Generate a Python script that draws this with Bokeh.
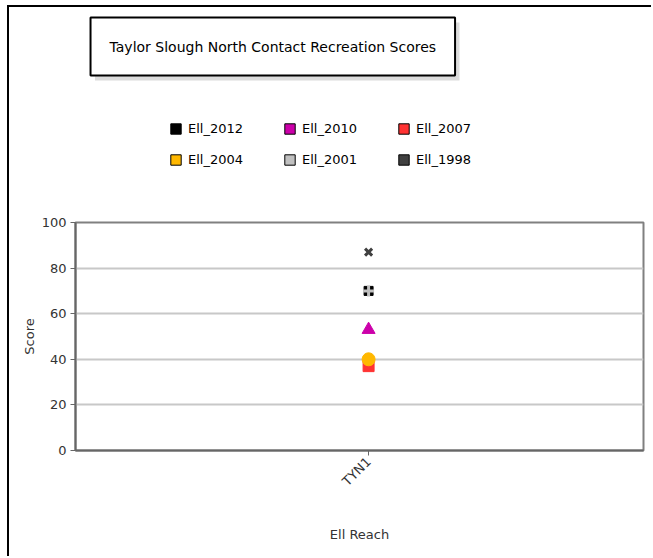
import math
from bokeh.plotting import figure
from bokeh.layouts import column
from bokeh.models import (Label, Legend, LegendItem, Range1d, FixedTicker, ColumnDataSource)
from bokeh.embed import file_html
from bokeh.resources import INLINE

title_text = "Taylor Slough North Contact Recreation Scores"
categories = ["TYN1"]
series = ["Ell_2012", "Ell_2010", "Ell_2007", "Ell_2004", "Ell_2001", "Ell_1998"]
scores = {
    "Ell_2012": [70],
    "Ell_2010": [53],
    "Ell_2007": [37],
    "Ell_2004": [40],
    "Ell_2001": [70],
    "Ell_1998": [87],
}
colors = {
    "Ell_2012": "#000000",
    "Ell_2010": "#cc00aa",
    "Ell_2007": "#ff3333",
    "Ell_2004": "#ffb800",
    "Ell_2001": "#c0c0c0",
    "Ell_1998": "#404040",
}
y_ticks = [0, 20, 40, 60, 80, 100]

FONT = "DejaVu Sans"

# ---------- header (title box + legend), pixel-like coordinates ----------
HW, HH = 642, 203
head = figure(width=HW, height=HH, output_backend="svg", toolbar_location=None,
              x_range=Range1d(0, HW), y_range=Range1d(0, HH),
              x_axis_type=None, y_axis_type=None, min_border=0)
head.grid.grid_line_color = None
head.outline_line_color = None
head.background_fill_color = "white"
head.border_fill_color = "white"

shadow = Label(x=228, y=159, text=title_text, text_align="center", text_baseline="middle",
               text_font=FONT, text_font_size="14px", text_color="#dcdcdc",
               background_fill_color="#dcdcdc", border_line_color=None,
               padding=(19, 19, 21, 21))
box = Label(x=223, y=164, text=title_text, text_align="center", text_baseline="middle",
            text_font=FONT, text_font_size="14px", text_color="black",
            background_fill_color="white", border_line_color="black", border_line_width=2,
            padding=(19, 19, 21, 21))
head.add_layout(shadow)
head.add_layout(box)

items = []
nan = float("nan")
for s in series:
    r = head.quad(left=[nan], right=[nan], top=[nan], bottom=[nan],
                  fill_color=colors[s], line_color="black", line_width=1)
    items.append(LegendItem(label=s, renderers=[r]))
legend = Legend(items=items, orientation="horizontal", nrows=2,
                location=(94, 43), border_line_color=None, background_fill_alpha=0,
                label_text_font=FONT, label_text_font_size="13px",
                label_text_color="#000000", glyph_width=13, glyph_height=13,
                label_standoff=6, label_width=79, spacing=16, padding=0, margin=0)
head.add_layout(legend, "center")

# ---------- main plot ----------
p = figure(width=642, height=346, output_backend="svg", toolbar_location=None,
           x_range=Range1d(-1.032, 0.968), y_range=Range1d(0, 100),
           min_border_left=66, min_border_top=12, min_border_right=8, min_border_bottom=106)
p.background_fill_color = "white"
p.border_fill_color = "white"
p.outline_line_color = "#808080"
p.outline_line_width = 2

p.yaxis.ticker = FixedTicker(ticks=y_ticks)
p.xaxis.ticker = FixedTicker(ticks=list(range(len(categories))))
p.xaxis.major_label_overrides = {i: c for i, c in enumerate(categories)}
p.xaxis.major_label_orientation = math.pi / 4
for ax in (p.xaxis[0], p.yaxis[0]):
    ax.axis_line_color = "#666666"
    ax.axis_line_width = 2
    ax.major_tick_line_color = "#666666"
    ax.major_tick_line_width = 1
    ax.major_tick_out = 5
    ax.major_tick_in = 0
    ax.minor_tick_line_color = None
    ax.major_label_text_font = FONT
    ax.major_label_text_font_size = "13px"
    ax.major_label_text_color = "#333333"
    ax.axis_label_text_font = FONT
    ax.axis_label_text_font_size = "13px"
    ax.axis_label_text_font_style = "normal"
    ax.axis_label_text_color = "#333333"
p.xaxis.axis_label = "Ell Reach"
p.yaxis.axis_label = "Score"
p.xaxis.axis_label_standoff = 30
p.yaxis.axis_label_standoff = 2
p.xaxis.major_label_standoff = 4
p.yaxis.major_label_standoff = 4

p.xgrid.grid_line_color = None
p.ygrid.grid_line_color = "#c8c8c8"
p.ygrid.grid_line_width = 2

xs = list(range(len(categories)))
markers = {
    "Ell_2012": dict(marker="square", size=9, line_width=1),
    "Ell_2010": dict(marker="triangle", size=13, line_width=1),
    "Ell_2007": dict(marker="square", size=11, line_width=1),
    "Ell_2004": dict(marker="circle", size=13, line_width=1),
    "Ell_2001": dict(marker="cross", size=11, line_width=3),
    "Ell_1998": dict(marker="x", size=10, line_width=3),
}
for s in series:
    src = ColumnDataSource(dict(x=xs, y=scores[s]))
    m = markers[s]
    if m["marker"] in ("cross", "x"):
        p.scatter("x", "y", source=src, marker=m["marker"], size=m["size"],
                  line_color=colors[s], line_width=m["line_width"])
    else:
        p.scatter("x", "y", source=src, marker=m["marker"], size=m["size"],
                  fill_color=colors[s], line_color=colors[s], line_width=m["line_width"])

layout = column(head, p, spacing=0)
layout.styles = {"border-left": "2px solid black", "border-top": "2px solid black",
                 "margin-left": "7px", "margin-top": "5px"}

open("out.html", "w").write(file_html(layout, INLINE))
